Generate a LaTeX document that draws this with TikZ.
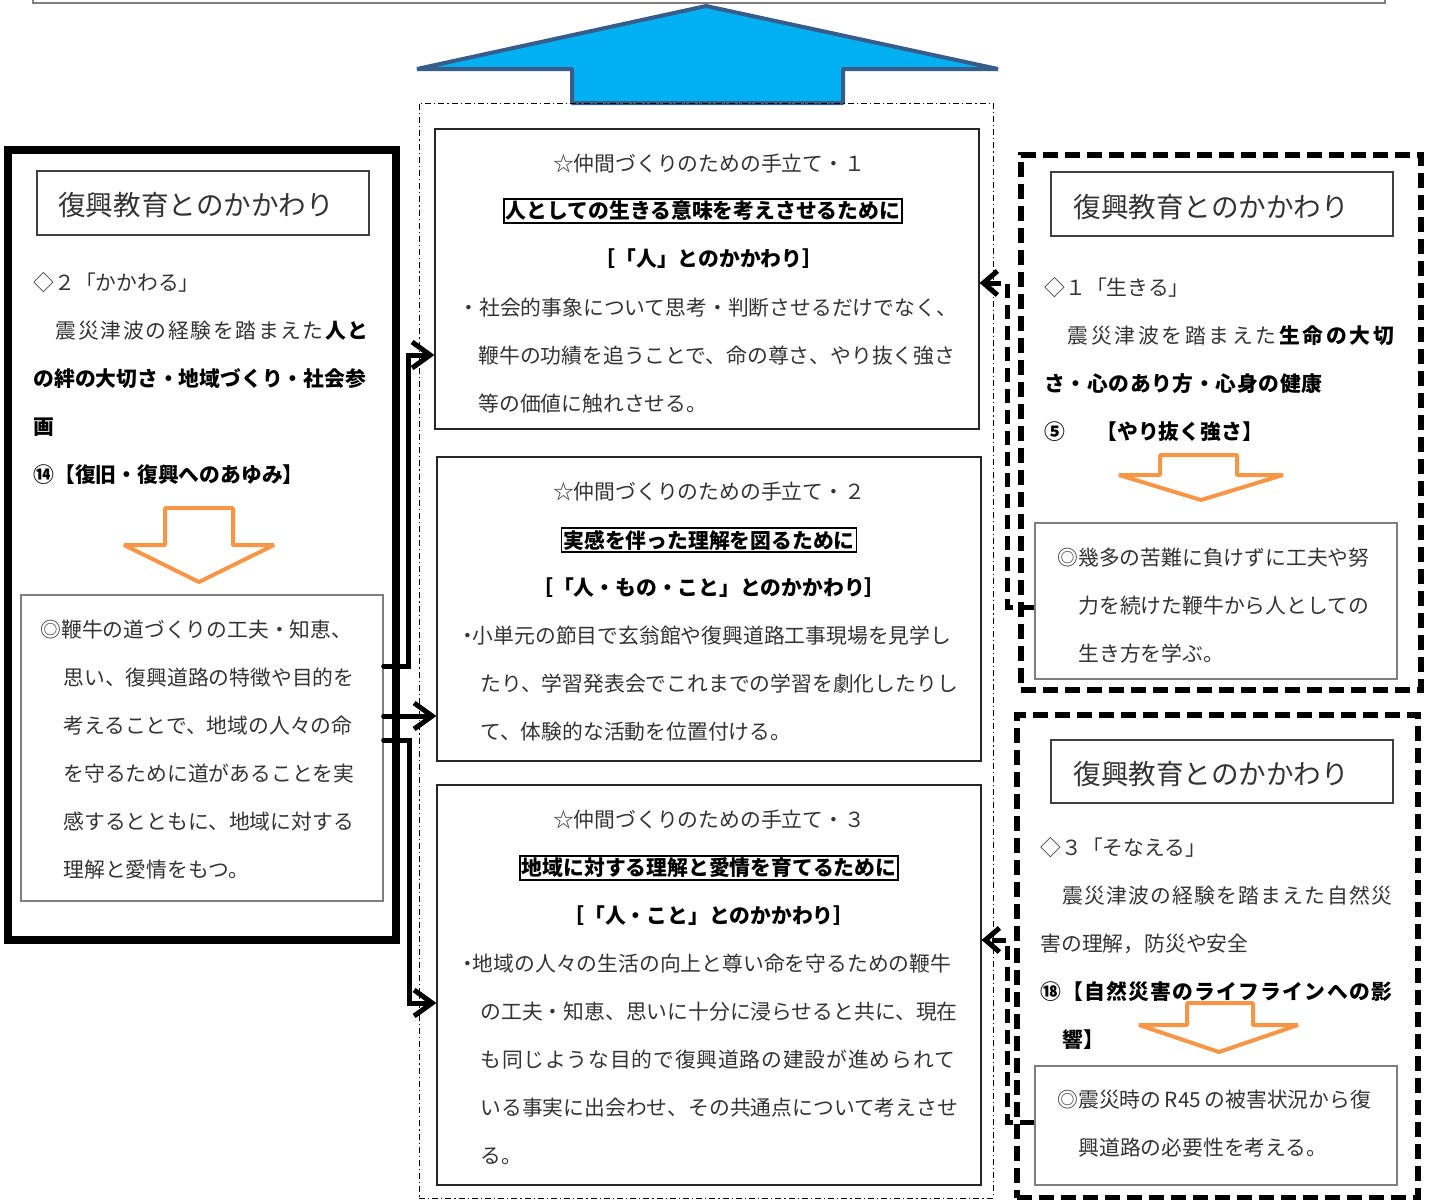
\documentclass[tikz,border=0pt]{standalone}
\usepackage{fontspec}
\setmainfont{Noto Sans CJK JP}
\usetikzlibrary{arrows.meta,fit}
\definecolor{arrowblue}{HTML}{00B0F0}
\definecolor{arrowedge}{HTML}{385D8A}
\definecolor{downorange}{HTML}{F79646}
\definecolor{framegray}{HTML}{7F7F7F}
\def\linesep{48}
\newcommand{\letterwide}[2]{{\addfontfeatures{LetterSpace=#1}#2}}

\begin{document}
\begin{tikzpicture}[x=0.5pt,y=-0.5pt]
            \tikzstyle{every node}=[inner sep=0pt, font=\fontsize{10.4pt}{12pt}\selectfont]
            \tikzstyle{plain}=[anchor=west, text=black!80]
            \tikzstyle{strong}=[anchor=west, text=black, font=\fontsize{10.4pt}{12pt}\selectfont\bfseries]
            \tikzstyle{hand box}=[draw=black!85, line width=0.6pt]
            \tikzstyle{inner box}=[draw=framegray, line width=0.7pt]
            \tikzstyle{title box}=[draw=black!75, line width=0.6pt]
            \tikzstyle{title text}=[anchor=west, text=black!80, font=\fontsize{13.8pt}{16pt}\selectfont]
            \tikzstyle{key text}=[strong, anchor=center, draw, line width=0.8pt, inner sep=1pt]
            \tikzstyle{down arrow}=[draw=downorange, line width=2pt, line join=bevel]
            \tikzstyle{solid link}=[line width=2.5pt, line cap=round, -{Straight Barb[length=9pt,width=13pt]}]
            \tikzstyle{dashed link}=[line width=2.5pt, dash pattern=on 7pt off 3.5pt, -{Straight Barb[length=7pt,width=12pt]}]

            \useasboundingbox (0,0) rectangle (1431,1200);

            % Frame above and the big arrow
            \draw[framegray, line width=1pt] (33,-20) rectangle (1385,3);
            \draw[fill=arrowblue, draw=arrowedge, line width=2pt, line join=bevel]
                (706,6) -- (998,69) -- (843,69) -- (843,103) -- (572,103) -- (572,69) -- (417,69) -- cycle;
            \node[fit={(419,103) (993,1198)}, draw, line width=0.5pt,
                  dash pattern=on 3pt off 1.5pt on 0.6pt off 1.5pt] (midframe) {};

            % The three support boxes in the middle
            \node[hand box, fit={(435,129) (979,429)}] (cbox1) {};
            \node[hand box, fit={(437,457) (981,761)}] (cbox2) {};
            \node[hand box, fit={(437,785) (981,1185)}] (cbox3) {};

            \node[plain, anchor=center] (c1-head) at (709,164) {☆仲間づくりのための手立て・１};
            \node[key text] (c1-key) at (703,211) {人としての生きる意味を考えさせるために};
            \node[strong, anchor=center] (c1-rel) at (709,259) {［「人」とのかかわり］};
            \node[plain] (c1-0) at (458,308) {・社会的事象について思考・判断させるだけでなく、};
            \foreach \txt [count=\i] in {鞭牛の功績を追うことで、命の尊さ、やり抜く強さ, 等の価値に触れさせる。}
                \node[plain] (c1-\i) at (478,308+\linesep*\i) {\txt};

            \node[plain, anchor=center] (c2-head) at (709,492) {☆仲間づくりのための手立て・２};
            \node[key text] (c2-key) at (709,540) {実感を伴った理解を図るために};
            \node[strong, anchor=center] (c2-rel) at (709,588) {［「人・もの・こと」とのかかわり］};
            \node[plain] (c2-0) at (462,636) {\makebox[0.5em]{・}小単元の節目で玄翁館や復興道路工事現場を見学し};
            \foreach \txt [count=\i] in {たり、学習発表会でこれまでの学習を劇化したりし, て、体験的な活動を位置付ける。}
                \node[plain] (c2-\i) at (480,636+\linesep*\i) {\txt};

            \node[plain, anchor=center] (c3-head) at (709,820) {☆仲間づくりのための手立て・３};
            \node[key text] (c3-key) at (709,868) {地域に対する理解と愛情を育てるために};
            \node[strong, anchor=center] (c3-rel) at (709,916) {［「人・こと」とのかかわり］};
            \node[plain] (c3-0) at (462,964) {\makebox[0.5em]{・}地域の人々の生活の向上と尊い命を守るための鞭牛};
            \foreach \txt [count=\i] in {の工夫・知恵、思いに十分に浸らせると共に、現在,
                    \letterwide{4}{も同じような目的で復興道路の建設が進められて},
                    いる事実に出会わせ、その共通点について考えさせ, る。}
                \node[plain] (c3-\i) at (480,964+\linesep*\i) {\txt};

            % Left box: kakawaru
            \node[fit={(8,150) (396,940)}, draw, line width=4pt] (lbox) {};
            \node[title box, fit={(37,171) (369,235)}] (ltitle) {};
            \node[title text] (ltitle-txt) at (58,205) {復興教育とのかかわり};
            \node[plain] (l-1) at (33,283) {◇２「かかわる」};
            \node[plain] (l-2) at (33,331) {\letterwide{8}{　震災津波の経験を踏まえた\textbf{\color{black}人と}}};
            \node[strong] (l-3) at (33,379) {の絆の大切さ・地域づくり・社会参};
            \node[strong] (l-4) at (33,427) {画};
            \node[strong] (l-5) at (33,475) {⑭【復旧・復興へのあゆみ】};
            \draw[down arrow] (165,508) -- (233,508) -- (233,545) -- (274,545) -- (199,582)
                -- (124,545) -- (165,545) -- cycle;
            \node[inner box, fit={(21,595) (383,901)}] (lin) {};
            \node[plain] (lin-0) at (40,630) {◎鞭牛の道づくりの工夫・知恵、};
            \foreach \txt [count=\i] in {思い、復興道路の特徴や目的を, 考えることで、地域の人々の命,
                    を守るために道があることを実, 感するとともに、地域に対する, 理解と愛情をもつ。}
                \node[plain] (lin-\i) at (63,630+\linesep*\i) {\txt};

            % Right top box: ikiru
            \node[fit={(1021,155) (1421,690)}, draw, line width=3pt, dash pattern=on 7.5pt off 3.5pt] (rtbox) {};
            \node[title box, fit={(1051,172) (1393,236)}] (rttitle) {};
            \node[title text] (rttitle-txt) at (1073,207) {復興教育とのかかわり};
            \node[plain] (rt-1) at (1044,288) {◇１「生きる」};
            \node[plain] (rt-2) at (1044,336) {\letterwide{13}{　震災津波を踏まえた\textbf{\color{black}生命の大切}}};
            \node[strong] (rt-3) at (1044,384) {\letterwide{3}{さ・心のあり方・心身の健康}};
            \node[strong] (rt-4) at (1044,432) {⑤\hspace{1.5em}【やり抜く強さ】};
            \draw[down arrow] (1160,455) -- (1237,455) -- (1237,475) -- (1283,475) -- (1201,500)
                -- (1119,475) -- (1160,475) -- cycle;
            \node[inner box, fit={(1035,523) (1397,679)}] (rtin) {};
            \node[plain] (rtin-0) at (1057,558) {◎幾多の苦難に負けずに工夫や努};
            \foreach \txt [count=\i] in {力を続けた鞭牛から人としての, 生き方を学ぶ。}
                \node[plain] (rtin-\i) at (1078,558+\linesep*\i) {\txt};

            % Right bottom box: sonaeru
            \node[fit={(1017,715) (1418,1198)}, draw, line width=3pt, dash pattern=on 7.5pt off 3.5pt] (rbbox) {};
            \node[title box, fit={(1051,740) (1393,803)}] (rbtitle) {};
            \node[title text] (rbtitle-txt) at (1073,774) {復興教育とのかかわり};
            \node[plain] (rb-1) at (1040,848) {◇３「そなえる」};
            \node[plain] (rb-2) at (1040,896) {\letterwide{6}{　震災津波の経験を踏まえた自然災}};
            \node[plain] (rb-3) at (1040,944) {害の理解，防災や安全};
            \node[strong] (rb-4) at (1040,992) {\letterwide{6}{⑱【自然災害のライフラインへの影}};
            \node[strong] (rb-5) at (1062,1040) {響】};
            \draw[down arrow] (1187,1003) -- (1253,1003) -- (1253,1025) -- (1298,1025) -- (1219,1052)
                -- (1139,1025) -- (1187,1025) -- cycle;
            \node[inner box, fit={(1035,1066) (1397,1185)}] (rbin) {};
            \node[plain] (rbin-0) at (1057,1100) {◎震災時の\,R45\,の被害状況から復};
            \node[plain] (rbin-1) at (1078,1148) {興道路の必要性を考える。};

            % Connect the side boxes with the support boxes
            \coordinate (lmid) at ([yshift=16pt]lin.east);
            \draw[solid link] ([yshift=41pt]lin.east) -- ++(25,0) |- ([yshift=-38pt]cbox1.west);
            \draw[solid link] (lmid) -- (lmid -| cbox2.west);
            \draw[solid link] ([yshift=4pt]lin.east) -- ++(26,0) |- ([yshift=-9pt]cbox3.west);

            \draw[dashed link] ([yshift=-3pt]rtin.west) -- ++(-27,0) |- ([yshift=-2pt]cbox1.east);
            \draw[dashed link] ([yshift=1.75pt]rbin.west) -- ++(-27,0) |- ([yshift=22.5pt]cbox3.east);
        \end{tikzpicture}
\end{document}
